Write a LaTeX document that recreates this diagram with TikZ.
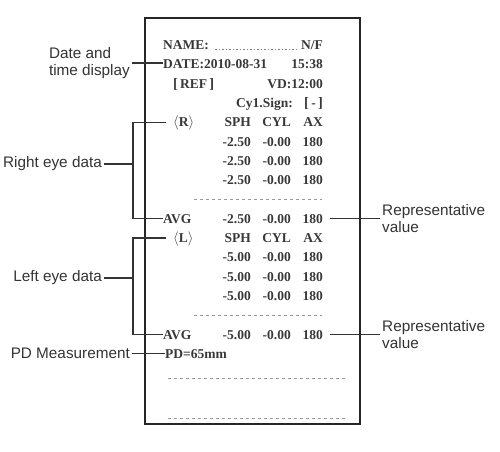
\documentclass[tikz,border=0pt]{standalone}
\usepackage{fontspec}
\setmainfont{Liberation Serif}
\setsansfont{Liberation Sans}
\usepackage{tikz}
\tikzset{prt/.style={inner sep=0pt, text height=9pt, text depth=0pt, font=\bfseries\fontsize{13.5}{16}\selectfont, text=black!78}}
\tikzset{lbl/.style={font=\sffamily\fontsize{15.3}{17.5}\selectfont, text=black!80, inner sep=2pt, align=left}}
\tikzset{lead/.style={draw=black!80, line width=1.2pt}}
\tikzset{tear/.style={draw=black!40, dash pattern=on 3pt off 3pt, line width=0.7pt}}

\begin{document}
\begin{tikzpicture}[x=1pt,y=-1pt]
\useasboundingbox (0,0) rectangle (500,451);
\draw[black!85, line width=2pt] (145,18) rectangle (360,424);
\node[prt, anchor=base west] (name) at (163,49.5) {NAME:}; \node[prt, anchor=base east] (nf) at (323,49.5) {N/F};
\draw[black!50, dash pattern=on 1.5pt off 2pt, line width=0.9pt] ([xshift=6pt]name.base east) -- ([xshift=-3pt]nf.base west);
\node[prt, anchor=base west] (date) at (163,68.8) {DATE:2010-08-31}; \node[prt, anchor=base east] (time) at (323,68.8) {15:38};
\node[prt, anchor=base west] (ref) at (173,88.1) {{\Large[}\,REF\,{\Large]}}; \node[prt, anchor=base east] (vd) at (323,88.1) {VD:12:00};
\node[prt, anchor=base east] (cyl) at (293,107.4) {Cy1.Sign:}; \node[prt, anchor=base east] (sign) at (323,107.4) {{\Large[}\,-\,{\Large]}};
\node[prt, anchor=base west, inner xsep=7pt] (rhd) at (166,126.7) {$\langle$R$\rangle$};
\node[prt, anchor=base east] (rsph) at (251,126.7) {SPH}; \node[prt, anchor=base east] (rcyl) at (291,126.7) {CYL}; \node[prt, anchor=base east] (rax) at (323,126.7) {AX};
\node[prt, anchor=base east] (r1a) at (251,146) {-2.50}; \node[prt, anchor=base east] (r1b) at (291,146) {-0.00}; \node[prt, anchor=base east] (r1c) at (323,146) {180};
\node[prt, anchor=base east] (r2a) at (251,165.3) {-2.50}; \node[prt, anchor=base east] (r2b) at (291,165.3) {-0.00}; \node[prt, anchor=base east] (r2c) at (323,165.3) {180};
\node[prt, anchor=base east] (r3a) at (251,184.6) {-2.50}; \node[prt, anchor=base east] (r3b) at (291,184.6) {-0.00}; \node[prt, anchor=base east] (r3c) at (323,184.6) {180};
\draw[tear] (194,199.4) -- (322,199.4);
\node[prt, anchor=base west] (ravg) at (163,223.2) {AVG};
\node[prt, anchor=base east] (rava) at (251,223.2) {-2.50}; \node[prt, anchor=base east] (ravb) at (291,223.2) {-0.00}; \node[prt, anchor=base east] (ravc) at (323,223.2) {180};
\node[prt, anchor=base west, inner xsep=7pt] (lhd) at (166,242.5) {$\langle$L$\rangle$};
\node[prt, anchor=base east] (lsph) at (251,242.5) {SPH}; \node[prt, anchor=base east] (lcyl) at (291,242.5) {CYL}; \node[prt, anchor=base east] (lax) at (323,242.5) {AX};
\node[prt, anchor=base east] (l1a) at (251,261.8) {-5.00}; \node[prt, anchor=base east] (l1b) at (291,261.8) {-0.00}; \node[prt, anchor=base east] (l1c) at (323,261.8) {180};
\node[prt, anchor=base east] (l2a) at (251,281.1) {-5.00}; \node[prt, anchor=base east] (l2b) at (291,281.1) {-0.00}; \node[prt, anchor=base east] (l2c) at (323,281.1) {180};
\node[prt, anchor=base east] (l3a) at (251,300.4) {-5.00}; \node[prt, anchor=base east] (l3b) at (291,300.4) {-0.00}; \node[prt, anchor=base east] (l3c) at (323,300.4) {180};
\draw[tear] (194,315.2) -- (322,315.2);
\node[prt, anchor=base west] (lavg) at (163,339) {AVG};
\node[prt, anchor=base east] (lava) at (251,339) {-5.00}; \node[prt, anchor=base east] (lavb) at (291,339) {-0.00}; \node[prt, anchor=base east] (lavc) at (323,339) {180};
\node[prt, anchor=base west] (pd) at (165,358.3) {PD=65mm};
\draw[tear] (168,378) -- (346,378);
\draw[tear] (168,418) -- (346,418);

\node[lbl, anchor=east] (datelbl) at (132,63) {Date and\\time display};
\node[lbl, anchor=east] (rlbl) at (104,164) {Right eye data};
\node[lbl, anchor=east] (llbl) at (104,278) {Left eye data};
\node[lbl, anchor=east] (pdlbl) at (132,353.8) {PD Measurement};
\node[lbl, anchor=west] (rep1) at (380,218.7) {Representative\\value};
\node[lbl, anchor=west] (rep2) at (380,334.5) {Representative\\value};
\coordinate (rx) at (133,0);
\draw[lead] (datelbl.east) -- (datelbl.east -| date.west);
\draw[lead] (rhd.west) -- (rhd.west -| rx) |- (ravg.west); \draw[lead] (rlbl.east) -- (rlbl.east -| rx);
\draw[lead] (lhd.west) -- (lhd.west -| rx) |- (lavg.west); \draw[lead] (llbl.east) -- (llbl.east -| rx);
\draw[lead] (pdlbl.east) -- (pdlbl.east -| pd.west);
\draw[lead, shorten <=7pt] (ravc.east) -- (ravc.east -| rep1.west);
\draw[lead, shorten <=7pt] (lavc.east) -- (lavc.east -| rep2.west);
\end{tikzpicture}
\end{document}
